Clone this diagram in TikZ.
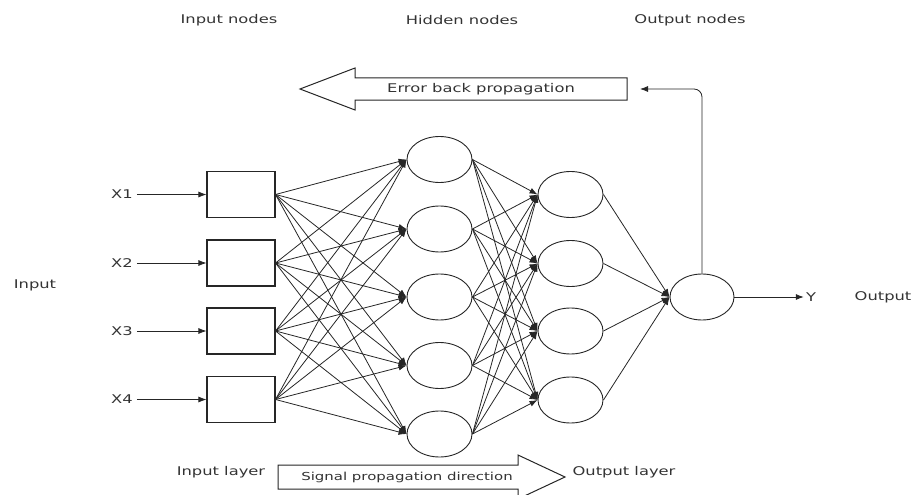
\documentclass[tikz,border=0pt]{standalone}
\usepackage{fontspec}
\setmainfont{DejaVu Sans}[FakeStretch=1.36]
\usetikzlibrary{arrows.meta,shapes.geometric}
\begin{document}
\begin{tikzpicture}[x=1pt,y=-1pt,
  ink/.style={draw=black!85},
  lbl/.style={text=black!80,font=\fontsize{12}{14}\selectfont,inner sep=1pt},
  inbox/.style={ink,line width=1.1pt,fill=white,minimum width=68pt,minimum height=46pt,inner sep=0pt},
  neuron/.style={ellipse,ink,line width=0.9pt,fill=white,minimum width=65pt,minimum height=46pt,inner sep=0pt},
  conn/.style={ink,line width=0.8pt,-{Latex[length=8pt,width=6pt]}},
  bigarrow/.style={ink,line width=1pt,fill=white}]
\useasboundingbox (0,0) rectangle (916,495);

% column headings and side labels
\node[lbl] (hin)  at (229,20) {Input nodes};
\node[lbl] (hhid) at (462,20) {Hidden nodes};
\node[lbl] (hout) at (690,20) {Output nodes};
\node[lbl] (tin)  at (35,285) {Input};
\node[lbl] (tout) at (883,297) {Output};
\node[lbl] (lin)  at (221,472) {Input layer};
\node[lbl] (lout) at (624,472) {Output layer};

% input layer boxes with their inputs
\foreach \i/\y in {1/194.5,2/263,3/331,4/399.5}{
  \node[inbox] (b\i) at (241,\y) {};
  \node[lbl,inner sep=4pt] (x\i) at (122,\y) {X\i};
  \draw[conn] (x\i.east) -- (b\i.west);
}

% hidden layer
\foreach \i/\y in {1/159.5,2/229,3/297,4/365.5,5/434}
  \node[neuron] (h\i) at (439.5,\y) {};

% second hidden layer
\foreach \i/\y in {1/194.5,2/263.5,3/331,4/400}
  \node[neuron] (g\i) at (570.5,\y) {};

% output neuron
\node[neuron,minimum width=64pt] (o) at (702,297) {};
\node[lbl,inner sep=2pt] (y) at (811,297) {Y};
\draw[conn] (o.east) -- (y.west);

% full connections
\foreach \i in {1,...,4}
  \foreach \j in {1,...,5}
    \draw[conn] (b\i.east) -- (h\j.west);
\foreach \j in {1,...,5}
  \foreach \k in {1,...,4}
    \draw[conn] (h\j.east) -- (g\k.west);
\foreach \k in {1,...,4}
  \draw[conn] (g\k.east) -- (o.west);

% error back propagation arrow
\draw[bigarrow] (300,89) -- (355,68) -- (355,78) -- (627,78) -- (627,100)
  -- (355,100) -- (355,110) -- cycle;
\node[lbl] (err) at (481,89) {Error back propagation};
\coordinate (errtip) at (640,89);
\draw[conn,rounded corners=8pt] (o.north) |- (errtip);

% signal propagation arrow
\draw[bigarrow] (278,465) -- (518,465) -- (518,455) -- (565,477) -- (518,499)
  -- (518,489) -- (278,489) -- cycle;
\node[lbl,font=\fontsize{11}{13}\selectfont] (sig) at (407,477) {Signal propagation direction};
\end{tikzpicture}
\end{document}
